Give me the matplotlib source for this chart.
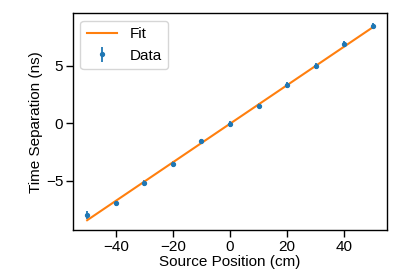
import numpy as np
import matplotlib.pyplot as plt

plt.rcParams['font.family'] = ['Liberation Sans', 'DejaVu Sans']
plt.rcParams['font.size'] = 11

position = [-50, -40, -30, -20, -10, 0, 10, 20, 30, 40, 50]
separation = [-7.98, -6.97, -5.18, -3.56, -1.59, -0.09, 1.53, 3.33, 4.97, 6.91, 8.44]
sep_err = [0.32, 0.26, 0.26, 0.26, 0.25, 0.25, 0.25, 0.25, 0.25, 0.25, 0.25]

fit_slope = 0.1676
fit_intercept = -0.05

fig, ax = plt.subplots(figsize=(4.07, 2.71), dpi=100)
fig.subplots_adjust(left=0.179, right=0.951, bottom=0.151, top=0.951)

ax.errorbar(position, separation, yerr=sep_err, fmt='o', markersize=2.8,
            elinewidth=1.3, color='C0', label='Data')
xs = np.array([position[0], position[-1]])
ax.plot(xs, fit_slope * xs + fit_intercept, color='C1', label='Fit')

ax.set_xlabel('Source Position (cm)', labelpad=1)
ax.set_ylabel('Time Separation (ns)', labelpad=2)
ax.set_xticks([-40, -20, 0, 20, 40])
ax.set_yticks([-5, 0, 5])
ax.tick_params(length=5, width=1, pad=2)
for s in ax.spines.values():
    s.set_linewidth(1.0)
ax.legend(loc='upper left')

fig.savefig('out.png', dpi=100)
